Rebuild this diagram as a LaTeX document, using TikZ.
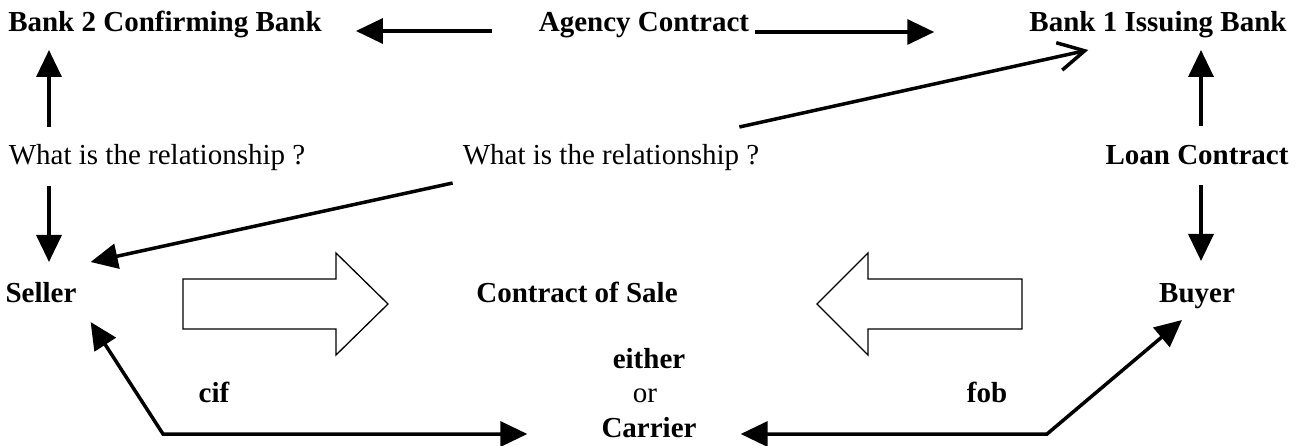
\documentclass[tikz,border=0pt]{standalone}
\usepackage{fontspec}
\setmainfont{Liberation Serif}
\usetikzlibrary{arrows.meta,calc}
\tikzset{
  boldlbl/.style={anchor=base, inner sep=0pt, font=\fontsize{29}{34}\selectfont\bfseries},
  plainlbl/.style={anchor=base, inner sep=0pt, font=\fontsize{29}{34}\selectfont},
  conn/.style={line width=3.5pt, -{Triangle[length=27pt,width=25pt]}},
  twoway/.style={line width=3.5pt, {Triangle[length=27pt,width=25pt]}-{Triangle[length=27pt,width=25pt]}},
  openconn/.style={line width=3.5pt, -{Straight Barb[length=26pt,width=28pt]}},
  hollow/.style={draw, line width=1.3pt, fill=white, line join=miter}
}
\begin{document}
\begin{tikzpicture}[x=1pt, y=-1pt]
  \useasboundingbox (0,0) rectangle (1305,446);

  % parties and contracts
  \node[boldlbl] (bank2)   at (165,32)  {Bank 2 Confirming Bank};
  \node[boldlbl] (agency)  at (644,32)  {Agency Contract};
  \node[boldlbl] (bank1)   at (1158,32) {Bank 1 Issuing Bank};
  \node[plainlbl] (rel1)   at (157,165) {What is the relationship ?};
  \node[plainlbl] (rel2)   at (611,165) {What is the relationship ?};
  \node[boldlbl] (loan)    at (1197,165) {Loan Contract};
  \node[boldlbl] (seller)  at (41,302)  {Seller};
  \node[boldlbl] (sale)    at (577,302) {Contract of Sale};
  \node[boldlbl] (buyer)   at (1197,302) {Buyer};
  \node[boldlbl] (either)  at (649,368) {either};
  \node[plainlbl] (or)     at (645,402) {or};
  \node[boldlbl] (carrier) at (649,437) {Carrier};
  \node[boldlbl] (cif)     at (214,402) {cif};
  \node[boldlbl] (fob)     at (987,402) {fob};

  % bend points of the carriage routes
  \coordinate (cifbend) at ($(cif.base)+(-51,32)$);
  \coordinate (fobbend) at ($(fob.base)+(60,32)$);

  % agency contract between the banks
  \draw[conn] ($(agency.base west)+(-47,-1)$) -- ($(bank2.base east)+(34,-1)$);
  \draw[conn] ($(agency.base east)+(6,0)$) -- ($(bank1.base west)+(-95,0)$);

  % left column
  \draw[conn] ($(rel1.base -| seller.base)+(8,-38)$) -- ($(bank2.base -| seller.base)+(8,18)$);
  \draw[conn] ($(rel1.base -| seller.base)+(8,21)$) -- ($(seller.base)+(8,-40)$);

  % right column
  \draw[conn] ($(loan.base)+(4,-39)$) -- ($(bank1.base -| loan.base)+(4,18)$);
  \draw[conn] ($(loan.base)+(4,20)$) -- ($(buyer.base)+(4,-41)$);

  % central question
  \draw[conn] ($(rel2.base west)+(-10,18)$) -- ($(seller.base east)+(14,-40)$);
  \draw[openconn] ($(rel2.base east)+(-20,-38)$) -- ($(bank1.base west)+(59,18)$);

  % contract of sale arrows
  \draw[hollow] (183,279) -- (336,279) -- (336,253) -- (388,304) -- (336,355) -- (336,329) -- (183,329) -- cycle;
  \draw[hollow] (1022,279) -- (868,279) -- (868,253) -- (817,304) -- (868,355) -- (868,329) -- (1022,329) -- cycle;

  % carriage routes
  \draw[twoway] ($(seller.base east)+(14,20)$) -- (cifbend) -- ($(carrier.base west)+(-74,-3)$);
  \draw[twoway] ($(carrier.base east)+(44,-3)$) -- (fobbend) -- ($(buyer.base)+(-15,18)$);
\end{tikzpicture}
\end{document}
